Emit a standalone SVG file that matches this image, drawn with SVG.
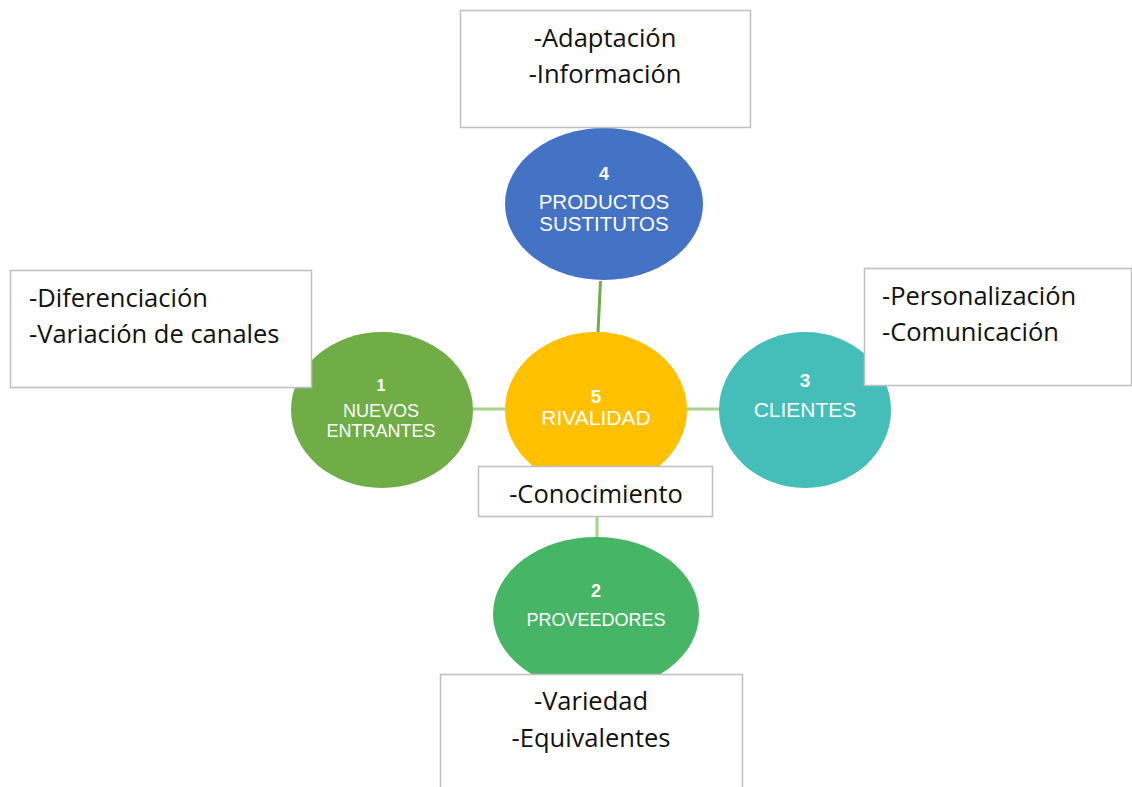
<svg xmlns="http://www.w3.org/2000/svg" width="1132" height="787" viewBox="0 0 1132 787">
<style>
.box{fill:#fff;stroke:#bfbfbf;stroke-width:1.5}
.bt{font-family:"Open Sans","Liberation Sans",Arial,sans-serif;font-size:25.5px;fill:#111}
.nt{font-family:"Liberation Sans",Arial,sans-serif;fill:#fff}
.num{font-weight:bold}
.conn{stroke-width:3;fill:none}
</style>
<rect width="1132" height="787" fill="#fff"/>
<g id="connectors">
<line class="conn" x1="600.5" y1="281" x2="598" y2="332" stroke="#70ad47"/>
<line class="conn" x1="473" y1="409" x2="506" y2="409" stroke="#a9d18e"/>
<line class="conn" x1="686" y1="409" x2="720" y2="409" stroke="#a9d18e"/>
<line class="conn" x1="597" y1="516" x2="597" y2="538" stroke="#a9d18e"/>
</g>
<g id="n4">
<ellipse cx="604" cy="204" rx="99" ry="76" fill="#4472c4"/>
<text class="nt num" x="604" y="180" font-size="18" text-anchor="middle">4</text>
<text class="nt" x="604" y="209" font-size="20.5" text-anchor="middle">PRODUCTOS</text>
<text class="nt" x="604" y="231" font-size="20.5" text-anchor="middle">SUSTITUTOS</text>
</g>
<g id="n5">
<ellipse cx="596" cy="410" rx="91" ry="78" fill="#ffc000"/>
<text class="nt num" x="596" y="403" font-size="19" text-anchor="middle">5</text>
<text class="nt" x="596" y="425" font-size="21" text-anchor="middle">RIVALIDAD</text>
</g>
<g id="n1">
<ellipse cx="382" cy="410" rx="91" ry="78" fill="#70ad47"/>
<text class="nt num" x="381" y="391" font-size="16" text-anchor="middle">1</text>
<text class="nt" x="381" y="417" font-size="18" text-anchor="middle">NUEVOS</text>
<text class="nt" x="381" y="437" font-size="18" text-anchor="middle">ENTRANTES</text>
</g>
<g id="n3">
<ellipse cx="805" cy="410" rx="86" ry="78" fill="#45bdb8"/>
<text class="nt num" x="805" y="387" font-size="19" text-anchor="middle">3</text>
<text class="nt" x="805" y="417" font-size="21" text-anchor="middle">CLIENTES</text>
</g>
<g id="n2">
<ellipse cx="596" cy="614" rx="103" ry="77" fill="#47b566"/>
<text class="nt num" x="596" y="597" font-size="18" text-anchor="middle">2</text>
<text class="nt" x="596" y="626" font-size="18" text-anchor="middle">PROVEEDORES</text>
</g>
<g id="box-top">
<rect class="box" x="460.5" y="10.5" width="290" height="117"/>
<text class="bt" x="605" y="47" text-anchor="middle">-Adaptación</text>
<text class="bt" x="605" y="83" text-anchor="middle">-Información</text>
</g>
<g id="box-left">
<rect class="box" x="10.5" y="270.5" width="301" height="117"/>
<text class="bt" x="29" y="307">-Diferenciación</text>
<text class="bt" x="29" y="343">-Variación de canales</text>
</g>
<g id="box-right">
<rect class="box" x="864.5" y="268.5" width="267" height="117"/>
<text class="bt" x="882" y="305">-Personalización</text>
<text class="bt" x="882" y="341">-Comunicación</text>
</g>
<g id="box-mid">
<rect class="box" x="478.5" y="466.5" width="234" height="50"/>
<text class="bt" x="596" y="503" text-anchor="middle">-Conocimiento</text>
</g>
<g id="box-bottom">
<rect class="box" x="440.5" y="674.5" width="302" height="130"/>
<text class="bt" x="591" y="710" text-anchor="middle">-Variedad</text>
<text class="bt" x="591" y="747" text-anchor="middle">-Equivalentes</text>
</g>
</svg>
